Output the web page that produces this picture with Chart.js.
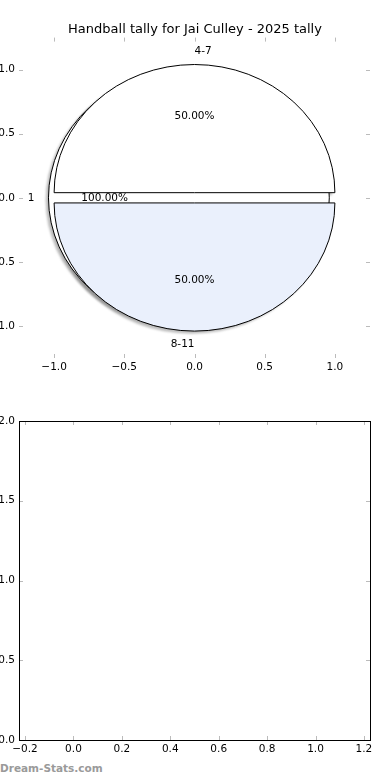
<!DOCTYPE html>
<html>
<head>
<meta charset="utf-8">
<script src="https://cdn.jsdelivr.net/npm/chart.js@4.4.1/dist/chart.umd.min.js"></script>
<style>
  body { margin: 0; background: #fff; width: 390px; height: 780px; overflow: hidden; position: relative; }
  canvas { position: absolute; left: 0; }
  #pieChart { top: 0; }
  #emptyChart { top: 390px; }
  #brand { position: absolute; left: 0; top: 762px; font: bold 10.5px "DejaVu Sans", sans-serif; color: #9a9a9a; }
</style>
</head>
<body>
<canvas id="pieChart" width="390" height="385"></canvas>
<canvas id="emptyChart" width="390" height="370"></canvas>
<div id="brand">Dream-Stats.com</div>
<script>
// data
const chartTitle = 'Handball tally for Jai Culley - 2025 tally';
const ringLabels = ['1'];
const ringValues = [1];
const bandLabels = ['4-7', '8-11'];
const bandValues = [1, 1];
const bandColors = ['#ffffff', '#eaf0fc'];
const pieTicks = [-1, -0.5, 0, 0.5, 1];
const emptyXTicks = [-0.2, 0, 0.2, 0.4, 0.6, 0.8, 1.0, 1.2];
const emptyYTicks = [0, 0.5, 1, 1.5, 2];

const FONT = '"DejaVu Sans", sans-serif';
const tickFont = { family: FONT, size: 10.5 };

function fmt(v) {
    return Number(v).toFixed(1).replace('-', '\u2212');
}

function fixedTicks(list) {
    return function(scale) {
        scale.ticks = list.map(v => ({ value: v }));
    };
}

// matplotlib style ticks, pointing inside on all four sides
const innerTicks = {
    id: 'innerTicks',
    afterDraw(chart, args, opts) {
        const ctx = chart.ctx;
        const a = chart.chartArea;
        const xs = chart.scales.x, ys = chart.scales.y;
        ctx.save();
        ctx.strokeStyle = '#bbbbbb';
        ctx.lineWidth = 1;
        ctx.beginPath();
        xs.ticks.forEach(t => {
            const x = Math.round(xs.getPixelForValue(t.value)) + 0.5;
            ctx.moveTo(x, a.top); ctx.lineTo(x, a.top + 4);
            ctx.moveTo(x, a.bottom); ctx.lineTo(x, a.bottom - 4);
        });
        ys.ticks.forEach(t => {
            const y = Math.round(ys.getPixelForValue(t.value)) + 0.5;
            ctx.moveTo(a.left, y); ctx.lineTo(a.left + 4, y);
            ctx.moveTo(a.right, y); ctx.lineTo(a.right - 4, y);
        });
        ctx.stroke();
        if (opts.frame) {
            ctx.strokeStyle = '#000';
            ctx.strokeRect(Math.round(a.left) + 0.5, Math.round(a.top) + 0.5,
                Math.round(a.right - a.left), Math.round(a.bottom - a.top));
        }
        ctx.restore();
    }
};

// pie wedges drawn through the x / y scales (so they come out elliptical like the original)
function buildWedges(values, labels, colors, explode) {
    const total = values.reduce((s, v) => s + v, 0);
    let start = 0;
    return values.map((v, i) => {
        const sweep = 360 * v / total;
        const mid = (start + start + sweep) / 2 * Math.PI / 180;
        const w = {
            t1: start, t2: start + sweep,
            cx: explode * Math.cos(mid), cy: explode * Math.sin(mid),
            mid: mid, label: labels[i], color: colors[i],
            pct: (100 * v / total).toFixed(2) + '%'
        };
        start += sweep;
        return w;
    });
}

const piePlugin = {
    id: 'piePlugin',
    afterDatasetsDraw(chart, args, opts) {
        const ctx = chart.ctx;
        const xs = chart.scales.x, ys = chart.scales.y;
        const rx = xs.getPixelForValue(1) - xs.getPixelForValue(0);
        const ry = ys.getPixelForValue(0) - ys.getPixelForValue(1);
        const groups = opts.groups;

        function wedgePath(w, dx, dy) {
            const px = xs.getPixelForValue(w.cx + dx);
            const py = ys.getPixelForValue(w.cy + dy);
            ctx.beginPath();
            if (w.t2 - w.t1 >= 360) {
                ctx.ellipse(px, py, rx, ry, 0, 0, Math.PI * 2);
            } else {
                ctx.moveTo(px, py);
                ctx.ellipse(px, py, rx, ry, 0, -w.t1 * Math.PI / 180, -w.t2 * Math.PI / 180, true);
                ctx.closePath();
            }
        }

        ctx.save();
        // shadows sit under every wedge
        groups.forEach(g => g.forEach(w => {
            wedgePath(w, -0.02, -0.02);
            ctx.fillStyle = 'rgba(90,90,90,0.4)';
            ctx.filter = 'blur(1.2px)';
            ctx.fill();
            ctx.filter = 'none';
        }));
        groups.forEach(g => g.forEach(w => {
            wedgePath(w, 0, 0);
            ctx.fillStyle = w.color;
            ctx.fill();
            ctx.strokeStyle = '#000';
            ctx.lineWidth = 1;
            ctx.stroke();
        }));
        // labels and percentages
        ctx.fillStyle = '#000';
        ctx.font = '10.5px ' + FONT;
        ctx.textBaseline = 'middle';
        groups.forEach(g => g.forEach(w => {
            const lx = w.cx + 1.1 * Math.cos(w.mid);
            const ly = w.cy + 1.1 * Math.sin(w.mid);
            ctx.textAlign = lx > 0 ? 'left' : 'right';
            ctx.fillText(w.label, xs.getPixelForValue(lx), ys.getPixelForValue(ly));
            ctx.textAlign = 'center';
            ctx.fillText(w.pct, xs.getPixelForValue(w.cx + 0.6 * Math.cos(w.mid)),
                ys.getPixelForValue(w.cy + 0.6 * Math.sin(w.mid)));
        }));
        ctx.restore();
    }
};

function axes(xMin, xMax, xTicks, yMin, yMax, yTicks, sizes) {
    return {
        x: {
            type: 'linear', position: 'bottom', min: xMin, max: xMax,
            afterBuildTicks: fixedTicks(xTicks),
            afterFit: s => { s.height = sizes.bottom; },
            grid: { display: false, drawTicks: false },
            border: { display: false },
            ticks: { callback: fmt, font: tickFont, color: '#000', padding: 3, maxRotation: 0, autoSkip: false }
        },
        xTop: {
            type: 'linear', position: 'top', min: xMin, max: xMax,
            afterFit: s => { s.height = sizes.top; },
            grid: { display: false, drawTicks: false },
            border: { display: false },
            ticks: { display: false }
        },
        y: {
            type: 'linear', position: 'left', min: yMin, max: yMax,
            afterBuildTicks: fixedTicks(yTicks),
            afterFit: s => { s.width = sizes.left; },
            grid: { display: false, drawTicks: false },
            border: { display: false },
            ticks: { callback: fmt, font: tickFont, color: '#000', padding: 4, autoSkip: false }
        },
        yRight: {
            type: 'linear', position: 'right', min: yMin, max: yMax,
            afterFit: s => { s.width = sizes.right; },
            grid: { display: false, drawTicks: false },
            border: { display: false },
            ticks: { display: false }
        }
    };
}

const pieGroups = [
    buildWedges(ringValues, ringLabels, ['#ffffff'], 0.04),
    buildWedges(bandValues, bandLabels, bandColors, 0.04)
];

new Chart(document.getElementById('pieChart'), {
    type: 'scatter',
    data: { datasets: [{ data: [] }] },
    options: {
        responsive: false,
        animation: false,
        layout: { padding: 0 },
        plugins: {
            legend: { display: false },
            tooltip: { enabled: false },
            title: {
                display: true, text: chartTitle, color: '#000',
                font: { family: FONT, size: 13, weight: 'normal' },
                padding: { top: 22, bottom: 0 }
            },
            innerTicks: { frame: false },
            piePlugin: { groups: pieGroups }
        },
        scales: axes(-1.25, 1.25, pieTicks, -1.25, 1.25, pieTicks,
            { top: 0, bottom: 27, left: 19, right: 20 })
    },
    plugins: [innerTicks, piePlugin]
});

new Chart(document.getElementById('emptyChart'), {
    type: 'scatter',
    data: { datasets: [{ data: [] }] },
    options: {
        responsive: false,
        animation: false,
        layout: { padding: 0 },
        plugins: {
            legend: { display: false },
            tooltip: { enabled: false },
            innerTicks: { frame: true }
        },
        scales: axes(-0.225, 1.225, emptyXTicks, 0, 2, emptyYTicks,
            { top: 31, bottom: 20, left: 19, right: 20 })
    },
    plugins: [innerTicks]
});
</script>
</body>
</html>
